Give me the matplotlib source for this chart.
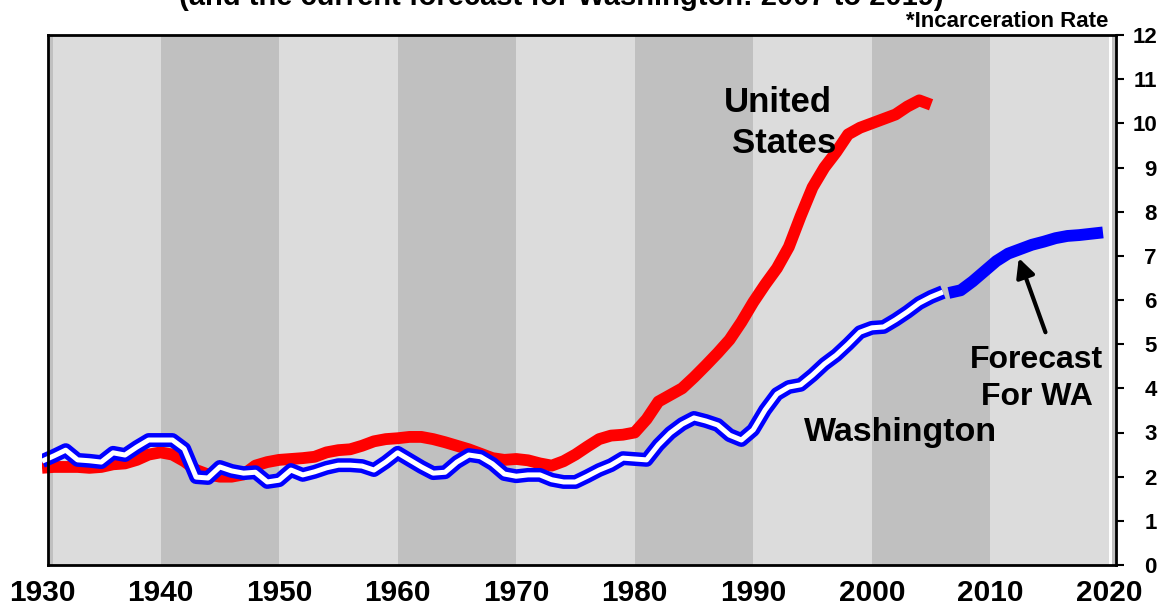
import numpy as np
import matplotlib
matplotlib.use("Agg")
import matplotlib.pyplot as plt

plt.rcParams["font.family"] = ["Liberation Sans", "DejaVu Sans"]
plt.rcParams["font.weight"] = "bold"

# --- data (rate per 1,000) ---
us_years = np.arange(1930, 2006)
us_rate = [
    2.20, 2.22, 2.22, 2.22, 2.20, 2.22, 2.28, 2.30, 2.38, 2.50,
    2.55, 2.50, 2.35, 2.15, 2.05, 2.00, 2.00, 2.05, 2.25, 2.33,
    2.38, 2.40, 2.42, 2.45, 2.55, 2.60, 2.62, 2.70, 2.80, 2.85,
    2.87, 2.90, 2.90, 2.85, 2.78, 2.70, 2.62, 2.52, 2.42, 2.38,
    2.40, 2.37, 2.30, 2.25, 2.35, 2.50, 2.68, 2.85, 2.93, 2.95,
    3.00, 3.30, 3.70, 3.85, 4.00, 4.25, 4.52, 4.80, 5.10, 5.50,
    5.95, 6.35, 6.72, 7.20, 7.90, 8.55, 9.00, 9.35, 9.75, 9.90,
    10.00, 10.10, 10.20, 10.38, 10.52, 10.42,
]

wa_years = np.arange(1930, 2007)
wa_rate = [
    2.35, 2.47, 2.60, 2.38, 2.36, 2.33, 2.54, 2.49, 2.67, 2.83,
    2.83, 2.83, 2.63, 1.99, 1.97, 2.22, 2.13, 2.08, 2.10, 1.88,
    1.92, 2.15, 2.04, 2.11, 2.20, 2.26, 2.26, 2.24, 2.15, 2.33,
    2.54, 2.38, 2.22, 2.08, 2.10, 2.33, 2.49, 2.45, 2.29, 2.06,
    2.01, 2.04, 2.04, 1.93, 1.88, 1.88, 2.01, 2.15, 2.26, 2.42,
    2.40, 2.38, 2.72, 2.99, 3.19, 3.33, 3.26, 3.17, 2.94, 2.83,
    3.06, 3.51, 3.87, 4.03, 4.08, 4.30, 4.55, 4.75, 5.00, 5.27,
    5.37, 5.39, 5.55, 5.73, 5.93, 6.07, 6.18,
]

# forecast plotted at fiscal-year midpoints
fc_years = [2006.5, 2007.5, 2008.5, 2009.5, 2010.5, 2011.5, 2012.5,
            2013.5, 2014.5, 2015.5, 2016.5, 2017.5, 2018.5, 2019.5]
fc_rate = [6.16, 6.22, 6.42, 6.65, 6.88, 7.05, 7.15,
           7.25, 7.32, 7.40, 7.45, 7.47, 7.50, 7.53]

decades = list(range(1930, 2030, 10))
y_ticks = list(range(0, 13))

LIGHT = "#dcdcdc"
DARK = "#c0c0c0"
X0, X1 = 1930.5, 2020.6

fig = plt.figure(figsize=(11.61, 6.07), dpi=100)
ax = fig.add_axes([42 / 1161, 1 - 565 / 607, 1074 / 1161, 530 / 607])
ax.set_facecolor("none")

# alternating decade bands
ax.axvspan(X0, 1930.9, color=DARK, lw=0, zorder=0)
for i, d in enumerate(decades[:-1]):
    lo = max(d, 1930.9)
    ax.axvspan(lo, d + 10, color=LIGHT if i % 2 == 0 else DARK, lw=0, zorder=0)
ax.axvspan(2020.3, X1, color=DARK, lw=0, zorder=0)

line_kw = dict(solid_capstyle="butt", solid_joinstyle="round")
ax.plot(us_years, us_rate, color="#ff0000", lw=8.5, zorder=3, **line_kw)
ax.plot(wa_years, wa_rate, color="#0000ff", lw=10, zorder=4, **line_kw)
ax.plot(wa_years, wa_rate, color="white", lw=3.6, zorder=5, **line_kw)
ax.plot(fc_years, fc_rate, color="#0000ff", lw=8.5, zorder=4, **line_kw)

ax.set_xlim(1930, X1)
ax.set_ylim(0, 12)

for side in ("top", "bottom"):
    ax.spines[side].set_bounds(X0, X1)
ax.spines["left"].set_position(("data", X0))
for s in ax.spines.values():
    s.set_linewidth(2)
    s.set_color("black")
    s.set_zorder(6)

ax.set_xticks(decades)
ax.set_xticklabels([str(d) for d in decades], fontsize=21.5, fontweight="bold")
ax.tick_params(axis="x", length=0, pad=10)

ax.yaxis.tick_right()
ax.set_yticks(y_ticks)
ax.set_yticklabels([str(v) for v in y_ticks], fontsize=16, fontweight="bold",
                   ha="right")
ax.tick_params(axis="y", direction="out", length=5.5, width=1.5, pad=24)

# annotations
ax.text(1992.05, 10.48, "United", fontsize=25, fontweight="bold",
        ha="center", va="center", zorder=7)
ax.text(1992.6, 9.55, "States", fontsize=25, fontweight="bold",
        ha="center", va="center", zorder=7)
ax.text(2002.4, 2.99, "Washington", fontsize=24.5, fontweight="bold",
        ha="center", va="center", zorder=7)
ax.text(2013.9, 4.64, "Forecast", fontsize=23, fontweight="bold",
        ha="center", va="center", zorder=7)
ax.text(2013.9, 3.80, "For WA", fontsize=23, fontweight="bold",
        ha="center", va="center", zorder=7)
ax.annotate("", xy=(2012.4, 6.95), xytext=(2014.65, 5.27),
            arrowprops=dict(arrowstyle="-|>", color="black", lw=3,
                            mutation_scale=28, shrinkA=0, shrinkB=0),
            zorder=7)

fig.text(1108 / 1161, 1 - 27 / 607, "*Incarceration Rate", fontsize=16,
         fontweight="bold", ha="right", va="baseline")
# title sits mostly above the canvas, as in the original
fig.text(561 / 1161, 1 - 5 / 607,
         "(and the current forecast for Washington: 2007 to 2019)",
         fontsize=21, fontweight="bold", ha="center", va="baseline")

fig.savefig("out.png", dpi=100)
